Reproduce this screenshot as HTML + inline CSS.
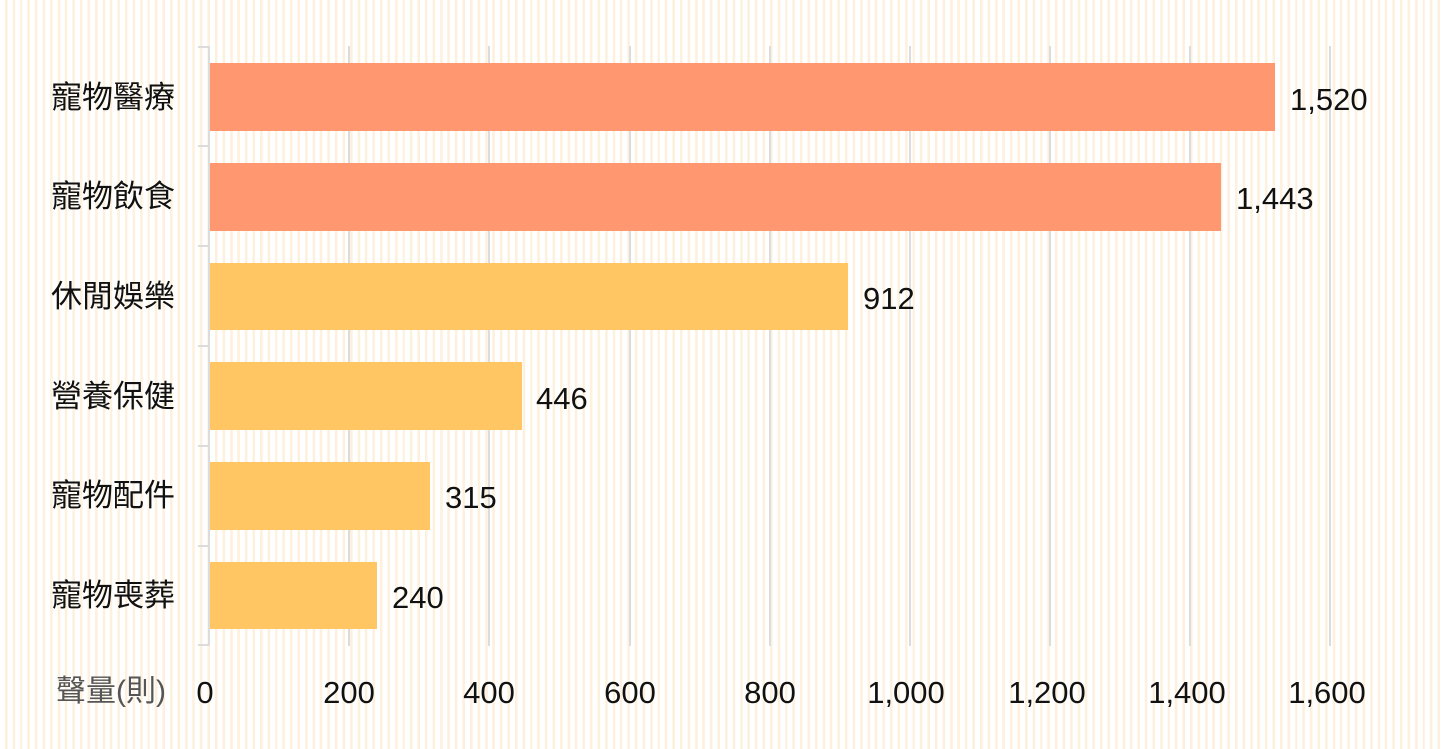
<!DOCTYPE html>
<html><head><meta charset="utf-8"><style>
body{margin:0;width:1444px;height:744px;overflow:hidden;
background:repeating-linear-gradient(90deg,#fff 0px,#fff 5px,#fdf0dc 5px,#fdf0dc 7.5px);}
text{font-family:"Liberation Sans","Noto Sans CJK TC",sans-serif;}
</style></head><body>
<svg width="1444" height="744" xmlns="http://www.w3.org/2000/svg">
<g stroke="#dcdcdc" stroke-width="2">
<line x1="349" y1="46" x2="349" y2="646"/><line x1="489" y1="46" x2="489" y2="646"/>
<line x1="630" y1="46" x2="630" y2="646"/><line x1="770" y1="46" x2="770" y2="646"/>
<line x1="910" y1="46" x2="910" y2="646"/><line x1="1050" y1="46" x2="1050" y2="646"/>
<line x1="1190" y1="46" x2="1190" y2="646"/><line x1="1330" y1="46" x2="1330" y2="646"/>
<line x1="209" y1="46" x2="209" y2="646"/>
<line x1="198" y1="47" x2="209" y2="47"/><line x1="198" y1="146" x2="209" y2="146"/>
<line x1="198" y1="246" x2="209" y2="246"/><line x1="198" y1="346" x2="209" y2="346"/>
<line x1="198" y1="446" x2="209" y2="446"/><line x1="198" y1="546" x2="209" y2="546"/>
<line x1="198" y1="645" x2="209" y2="645"/>
</g>
<g>
<rect x="210" y="63" width="1065" height="68" fill="#ff9770"/>
<rect x="210" y="163" width="1011" height="68" fill="#ff9770"/>
<rect x="210" y="263" width="638" height="67" fill="#ffc663"/>
<rect x="210" y="362" width="312" height="68" fill="#ffc663"/>
<rect x="210" y="462" width="220" height="68" fill="#ffc663"/>
<rect x="210" y="562" width="167" height="67" fill="#ffc663"/>
</g>
<g font-size="31" fill="#111" text-anchor="end">
<text x="175" y="108">寵物醫療</text><text x="175" y="207">寵物飲食</text>
<text x="175" y="307">休閒娛樂</text><text x="175" y="407">營養保健</text>
<text x="175" y="506">寵物配件</text><text x="175" y="606">寵物喪葬</text>
</g>
<g font-size="31" fill="#111">
<text x="1290" y="110">1,520</text><text x="1236" y="209">1,443</text>
<text x="863" y="309">912</text><text x="536" y="409">446</text>
<text x="445" y="508">315</text><text x="392" y="608">240</text>
</g>
<text x="166" y="701" font-size="30" fill="#555" text-anchor="end">聲量(則)</text>
<g font-size="31" fill="#111" text-anchor="middle">
<text x="205" y="703">0</text><text x="349" y="703">200</text><text x="489" y="703">400</text>
<text x="630" y="703">600</text><text x="770" y="703">800</text><text x="906" y="703">1,000</text>
<text x="1047" y="703">1,200</text><text x="1187" y="703">1,400</text><text x="1327" y="703">1,600</text>
</g>
</svg>
</body></html>
